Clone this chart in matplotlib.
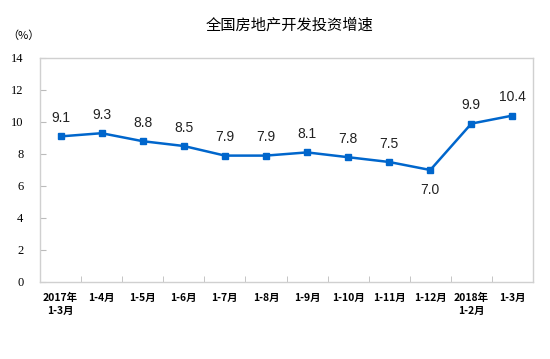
import matplotlib
matplotlib.use("Agg")
import matplotlib.pyplot as plt
import numpy as np

plt.rcParams['font.family'] = ['Noto Sans CJK SC', 'DejaVu Sans']

categories = ["2017年\n1-3月", "1-4月", "1-5月", "1-6月", "1-7月", "1-8月", "1-9月",
              "1-10月", "1-11月", "1-12月", "2018年\n1-2月", "1-3月"]
values = [9.1, 9.3, 8.8, 8.5, 7.9, 7.9, 8.1, 7.8, 7.5, 7.0, 9.9, 10.4]
yticks = [0, 2, 4, 6, 8, 10, 12, 14]

fig = plt.figure(figsize=(5.5, 3.59), dpi=100)
ax = fig.add_axes([40/550, 1-282/359, 493/550, 224/359])
x = np.arange(len(values))
color = "#0066CC"
ax.plot(x, values, color=color, lw=1.8, marker="s", ms=5, zorder=3)

for xi, v in zip(x, values):
    if v == 7.0:
        ax.annotate(f"{v:.1f}", (xi, v), xytext=(0, -9), textcoords="offset points",
                    ha="center", va="top", fontsize=10, family="Liberation Sans", color="#222222")
    else:
        ax.annotate(f"{v:.1f}", (xi, v), xytext=(0, 8), textcoords="offset points",
                    ha="center", va="bottom", fontsize=10, family="Liberation Sans", color="#222222")

ax.set_xlim(-0.5, len(values) - 0.5)
ax.set_ylim(0, 14)
ax.set_yticks(yticks)
ax.set_yticklabels([str(t) for t in yticks], fontsize=9, family="Liberation Serif")
ax.set_xticks(x)
ax.set_xticklabels(categories, fontsize=7.5, fontweight="bold", linespacing=1.3)
ax.tick_params(axis="x", length=0, pad=8)
ax.set_xticks(np.arange(len(values) - 1) + 0.5, minor=True)
ax.tick_params(axis="x", which="minor", direction="in", length=4, color="#BBBBBB")
ax.tick_params(axis="y", direction="in", length=4, color="#BBBBBB", pad=12)
for s in ax.spines.values():
    s.set_color("#D0D0D0")
    s.set_linewidth(1.0)

fig.text(290/550, 1-25/359, "全国房地产开发投资增速", ha="center", va="center", fontsize=11)
fig.text(23/550, 1-36/359, "（%）", ha="center", va="center", fontsize=8)

fig.savefig("out.png", dpi=100)
